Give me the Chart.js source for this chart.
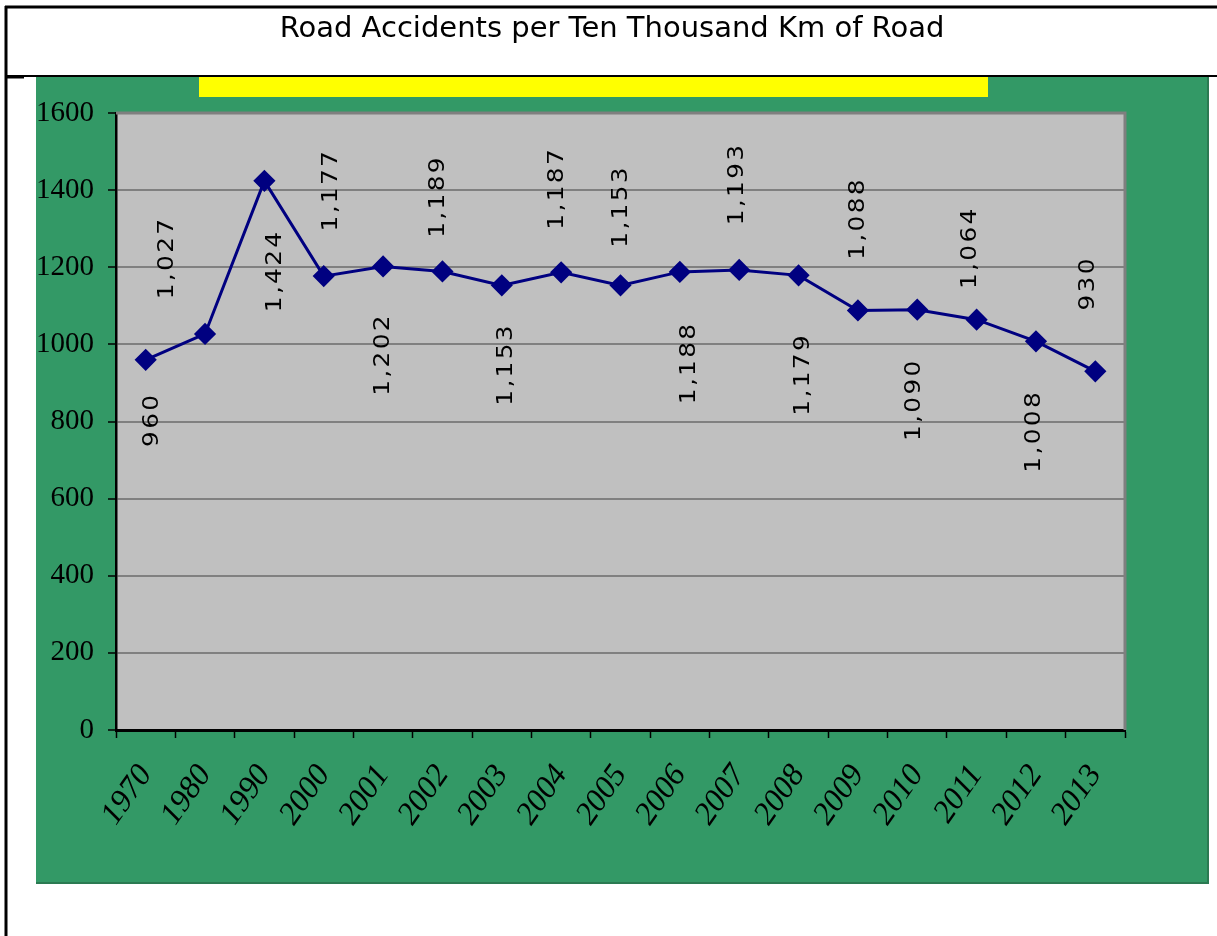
<!DOCTYPE html>
<html>
<head>
<meta charset="utf-8">
<title>Road Accidents per Ten Thousand Km of Road</title>
<script src="https://cdn.jsdelivr.net/npm/chart.js@4.4.1/dist/chart.umd.min.js"></script>
<style>
  html, body { margin: 0; padding: 0; background: #fff; }
  #wrap { width: 1217px; height: 936px; }
</style>
</head>
<body>
<div id="wrap"><canvas id="chart" width="1217" height="936"></canvas></div>
<script>
// data
const years = ['1970', '1980', '1990', '2000', '2001', '2002', '2003', '2004', '2005',
  '2006', '2007', '2008', '2009', '2010', '2011', '2012', '2013'];
const accidents = [960, 1027, 1424, 1177, 1202, 1189, 1153, 1187, 1153,
  1188, 1193, 1179, 1088, 1090, 1064, 1008, 930];
const yMin = 0;
const yMax = 1600;
const yStep = 200;
const chartTitle = 'Road Accidents per Ten Thousand Km of Road';

// background: page frame, title box, green panel, yellow strip, grey plot area
const framePlugin = {
  id: 'frame',
  beforeDraw(chart) {
    const ctx = chart.ctx;
    const a = chart.chartArea;
    ctx.save();
    ctx.fillStyle = '#fff';
    ctx.fillRect(0, 0, chart.width, chart.height);

    ctx.fillStyle = '#339966';
    ctx.fillRect(36, 76, 1172, 807);
    ctx.strokeStyle = '#2b7a52';
    ctx.lineWidth = 2;
    ctx.beginPath();
    ctx.moveTo(36, 883); ctx.lineTo(1208, 883); ctx.lineTo(1208, 76);
    ctx.stroke();

    ctx.fillStyle = '#ffff00';
    ctx.fillRect(199, 76, 789, 21);

    ctx.fillStyle = '#c0c0c0';
    ctx.fillRect(a.left, a.top, a.right - a.left, a.bottom - a.top);

    // page border + title box
    ctx.strokeStyle = '#000';
    ctx.lineWidth = 3;
    ctx.beginPath();
    ctx.moveTo(5, 7); ctx.lineTo(chart.width, 7);
    ctx.moveTo(6, 6); ctx.lineTo(6, chart.height);
    ctx.stroke();
    ctx.lineWidth = 2;
    ctx.beginPath();
    ctx.moveTo(5, 76); ctx.lineTo(chart.width, 76);
    ctx.stroke();
    ctx.lineWidth = 3;
    ctx.beginPath();
    ctx.moveTo(5, 77); ctx.lineTo(24, 77);
    ctx.stroke();

    ctx.fillStyle = '#000';
    ctx.font = '29px "DejaVu Sans", Verdana, sans-serif';
    ctx.textAlign = 'center';
    ctx.textBaseline = 'middle';
    ctx.fillText(chartTitle, 612, 29);
    ctx.restore();
  },
  beforeDatasetsDraw(chart) {
    const ctx = chart.ctx;
    const a = chart.chartArea;
    ctx.save();
    ctx.strokeStyle = '#7f7f7f';
    ctx.lineWidth = 3;
    ctx.beginPath();
    ctx.moveTo(a.left, a.top); ctx.lineTo(a.right, a.top); ctx.lineTo(a.right, a.bottom);
    ctx.stroke();
    ctx.restore();
  }
};

// vertical value labels, placed above / below each marker as in the scan
const valueLabels = {
  id: 'valueLabels',
  afterDatasetsDraw(chart, args, opts) {
    const ctx = chart.ctx;
    const meta = chart.getDatasetMeta(0);
    ctx.save();
    ctx.fillStyle = '#000';
    ctx.font = opts.font;
    ctx.letterSpacing = '2px';
    ctx.textAlign = 'center';
    ctx.textBaseline = 'middle';
    meta.data.forEach((pt, i) => {
      const v = chart.data.datasets[0].data[i];
      ctx.save();
      ctx.translate(pt.x + opts.dx[i], pt.y + opts.dy[i]);
      ctx.rotate(-Math.PI / 2);
      ctx.scale(1.18, 1);
      ctx.fillText(v.toLocaleString('en-US'), 0, 0);
      ctx.restore();
    });
    ctx.restore();
  }
};

new Chart(document.getElementById('chart'), {
  type: 'line',
  data: {
    labels: years,
    datasets: [{
      data: accidents,
      borderColor: '#000080',
      backgroundColor: '#000080',
      borderWidth: 3,
      pointStyle: 'rectRot',
      pointRadius: 9,
      pointHoverRadius: 9,
      tension: 0,
      fill: false
    }]
  },
  options: {
    responsive: false,
    animation: false,
    devicePixelRatio: 1,
    layout: { padding: { left: 36, right: 92, top: 113, bottom: 53 } },
    plugins: {
      legend: { display: false },
      title: { display: false },
      tooltip: { enabled: false },
      valueLabels: {
        font: '21px "DejaVu Sans", Verdana, sans-serif',
        dx: [7, -37, 11, 8, 0, -4, 5, -4, 1, 10, -2, 5, 1, -3, -6, -1, -7],
        dy: [60, -76, 90, -86, 88, -75, 79, -84, -79, 91, -86, 99, -92, 90, -72, 90, -88]
      }
    },
    scales: {
      x: {
        offset: true,
        afterFit: (s) => { s.height = 153; },
        grid: { display: true, offset: true, drawOnChartArea: false, drawTicks: true,
          tickLength: 8, tickColor: '#000', tickWidth: 1.5 },
        border: { display: true, color: '#000', width: 3 },
        ticks: {
          autoSkip: false, minRotation: 55, maxRotation: 55, padding: 20,
          color: '#000',
          font: { family: '"Liberation Serif", "Times New Roman", serif', size: 32, style: 'italic' }
        }
      },
      y: {
        min: yMin,
        max: yMax,
        afterFit: (s) => { s.width = 80; },
        grid: { color: '#808080', lineWidth: 2, drawTicks: true, tickLength: 8,
          tickColor: '#000', tickWidth: 1.5 },
        border: { display: true, color: '#000', width: 2.5 },
        ticks: {
          stepSize: yStep, padding: 14, color: '#000',
          callback: (v) => String(v),
          font: { family: '"Liberation Serif", "Times New Roman", serif', size: 29 }
        }
      }
    }
  },
  plugins: [framePlugin, valueLabels]
});
</script>
</body>
</html>
